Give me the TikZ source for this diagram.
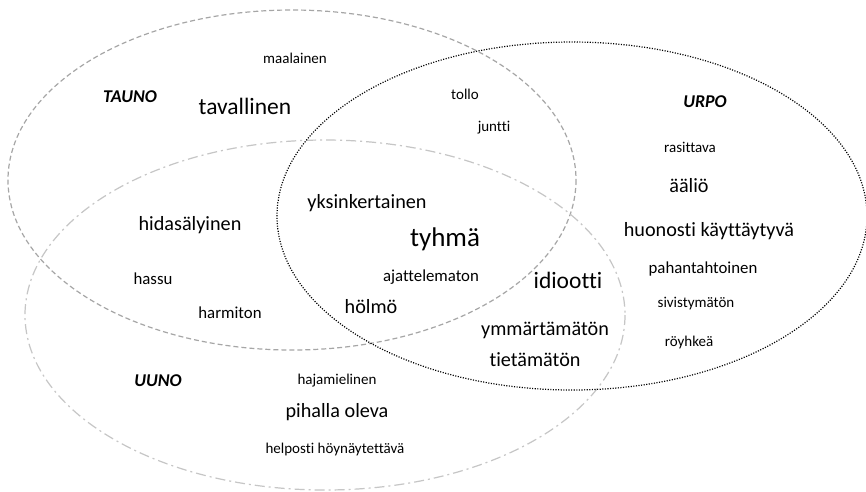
\documentclass[tikz,border=0pt]{standalone}
\usepackage{fontspec}
\setmainfont{Carlito}[Ligatures=NoCommon]
\begin{document}
\begin{tikzpicture}[x=1pt,y=-1pt,
  tset/.style={draw=gray!70, line width=1.2pt, dash pattern=on 5pt off 3pt},
  uset/.style={draw=gray!45, line width=1.2pt, dash pattern=on 10pt off 4pt on 2pt off 4pt},
  pset/.style={draw=black, line width=1.2pt, dash pattern=on 1.1pt off 1.5pt},
  xs/.style={inner sep=0pt, font=\fontsize{15}{18}\selectfont},
  sm/.style={inner sep=0pt, font=\fontsize{16.8}{20}\selectfont},
  md/.style={inner sep=0pt, font=\fontsize{20.2}{24}\selectfont},
  lg/.style={inner sep=0pt, font=\fontsize{23.5}{28}\selectfont},
  xl/.style={inner sep=0pt, font=\fontsize{27}{32}\selectfont},
  lab/.style={inner sep=0pt, font=\fontsize{18}{22}\selectfont\bfseries\itshape}]
\useasboundingbox (0,0) rectangle (866,491);
\fill[white] (0,0) rectangle (866,491);
% sets
\draw[tset] (292,180) ellipse [x radius=284, y radius=170];
\draw[uset] (325,315) ellipse [x radius=300, y radius=175];
\draw[pset] (572,216) ellipse [x radius=295, y radius=174];
% labels
\node[lab] (tauno) at (130,97) {TAUNO};
\node[lab] (urpo) at (705,102) {URPO};
\node[lab] (uuno) at (158,381) {UUNO};
% words
\node[xs] (maalainen) at (295,58) {maalainen};
\node[lg] (tavallinen) at (245,106) {tavallinen};
\node[xs] (tollo) at (465,94) {tollo};
\node[xs] (juntti) at (494,128) {juntti};
\node[xs] (rasittava) at (690,147) {rasittava};
\node[md] (aalio) at (689,186) {ääliö};
\node[md] (huonosti) at (709,231) {huonosti käyttäytyvä};
\node[md] (yksinkertainen) at (367,203) {yksinkertainen};
\node[md] (hidas) at (190,225) {hidasälyinen};
\node[xl] (tyhma) at (445,239) {tyhmä};
\node[sm] (hassu) at (153,279) {hassu};
\node[sm] (ajattelematon) at (431,277) {ajattelematon};
\node[lg] (idiootti) at (568,280) {idiootti};
\node[sm] (pahantahtoinen) at (703,269) {pahantahtoinen};
\node[sm] (harmiton) at (230,313) {harmiton};
\node[md] (holmo) at (371,307) {hölmö};
\node[xs] (sivistymaton) at (696,304) {sivistymätön};
\node[md] (ymmartamaton) at (545,330) {ymmärtämätön};
\node[xs] (royhkea) at (689,342) {röyhkeä};
\node[md] (tietamaton) at (535,360) {tietämätön};
\node[xs] (hajamielinen) at (337,381) {hajamielinen};
\node[md] (pihalla) at (337,412) {pihalla oleva};
\node[xs] (helposti) at (335,449) {helposti höynäytettävä};
\end{tikzpicture}
\end{document}
